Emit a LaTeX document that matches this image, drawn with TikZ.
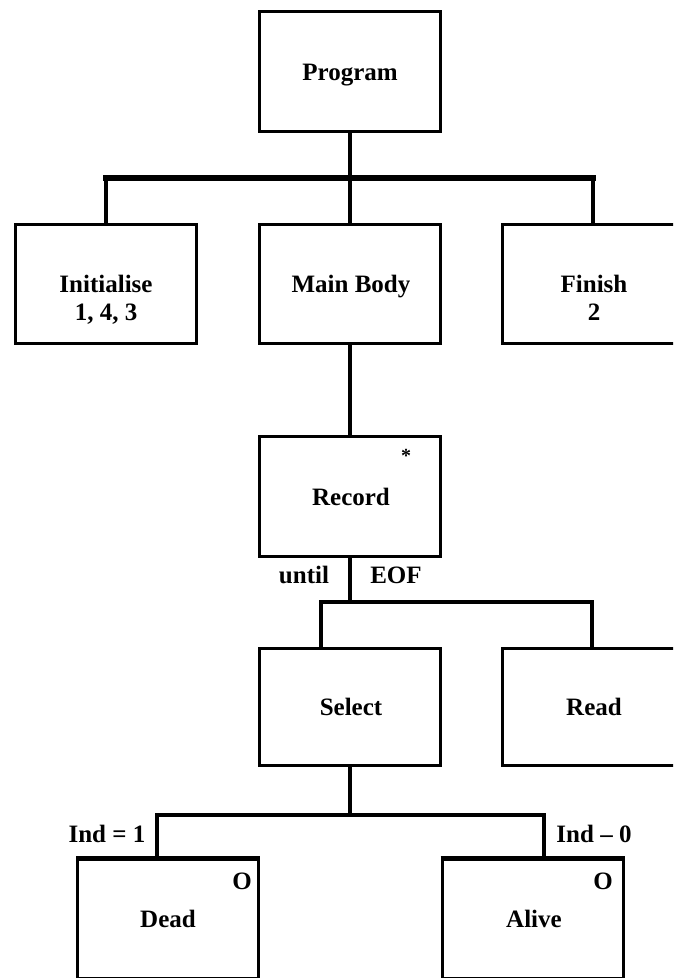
\documentclass[tikz,border=0pt]{standalone}
\usepackage{fontspec}
\setmainfont{Liberation Serif}
\begin{document}
\begin{tikzpicture}[x=1pt, y=-1pt,
  box/.style={draw, line width=3pt, rectangle, inner sep=0pt,
              minimum width=181pt, minimum height=120pt},
  conn/.style={line width=3.2pt, line join=miter},
  heavy/.style={line width=5.5pt, line cap=rect},
  lbl/.style={font=\bfseries\fontsize{25}{28}\selectfont, inner sep=0pt, anchor=base},
  small/.style={font=\bfseries\fontsize{20}{24}\selectfont, inner sep=0pt, anchor=base}]
\useasboundingbox (0,0) rectangle (673,978);
\clip (0,0) rectangle (673,978);
\fill[white] (0,0) rectangle (673,978);

% top level
\node[box] (prog) at (350,71.5) {};
% second level
\node[box, minimum height=119pt] (init) at (106,284) {};
\node[box, minimum height=119pt] (main) at (350,284) {};
\node[box, minimum height=119pt] (fin)  at (593,284) {};
% iteration
\node[box] (rec) at (350,496.5) {};
% record body
\node[box, minimum height=117pt] (sel)  at (350,707) {};
\node[box, minimum height=117pt] (read) at (593,707) {};
% selection
\node[box, minimum height=118.5pt] (dead)  at (168,918.75) {};
\node[box, minimum height=118.5pt] (alive) at (532.5,918.75) {};
\draw[line width=5pt] (dead.north west) -- (dead.north east);
\draw[line width=5pt] (alive.north west) -- (alive.north east);

% junction points
\coordinate (j1) at (350,178);
\coordinate (j2) at (350,602);
\coordinate (selTap) at (321,602);
\coordinate (readTap) at (592,602);
\coordinate (j3) at (350,815);
\coordinate (deadTap) at (157,815);
\coordinate (aliveTap) at (544,815);

% connectors
\draw[conn] (prog.south) -- (j1);
\draw[heavy] (init.north |- j1) -- (fin.north |- j1);
\draw[conn] (init.north |- j1) -- (init.north);
\draw[conn] (j1) -- (main.north);
\draw[conn, line width=4pt] (fin.north |- j1) -- (fin.north);
\draw[conn] (main.south) -- (rec.north);
\draw[conn] (rec.south) -- (j2);
\draw[conn] (selTap |- sel.north) -- (selTap) -- (readTap) -- (readTap |- read.north);
\draw[conn] (sel.south) -- (j3);
\draw[conn] (deadTap |- dead.north) -- (deadTap) -- (aliveTap) -- (aliveTap |- alive.north);

% texts
\node[lbl] (tProg) at (350,80) {Program};
\node[lbl] (tInit) at (106,292) {Initialise};
\node[lbl] (tInitOps) at (106,320) {1, 4, 3};
\node[lbl] (tMain) at (351,292) {Main Body};
\node[lbl] (tFin) at (594,292) {Finish};
\node[lbl] (tFinOps) at (594,320) {2};
\node[lbl] (tRec) at (351,505) {Record};
\node[small] (tStar) at (406,462) {*};
\node[lbl] (tUntil) at (304,583) {until};
\node[lbl] (tEof) at (396,583) {EOF};
\node[lbl] (tSel) at (351,715) {Select};
\node[lbl] (tRead) at (594,715) {Read};
\node[lbl] (tInd1) at (107,842) {Ind = 1};
\node[lbl] (tInd0) at (594,842) {Ind – 0};
\node[lbl] (tSelA) at (242,889) {O};
\node[lbl] (tSelB) at (603,889) {O};
\node[lbl] (tDead) at (168,927) {Dead};
\node[lbl] (tAlive) at (534,927) {Alive};
\end{tikzpicture}
\end{document}
